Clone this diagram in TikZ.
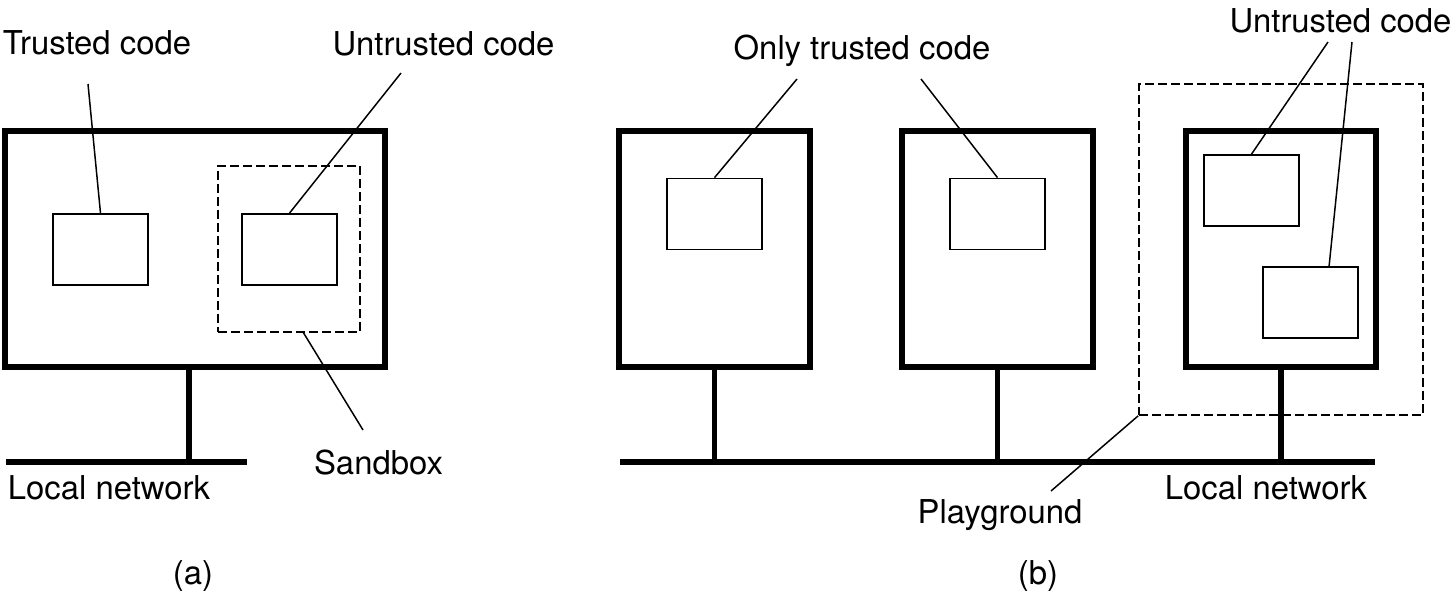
\documentclass[tikz,border=0pt]{standalone}
\usepackage{fontspec}
\setmainfont{TeX Gyre Heros}
\usetikzlibrary{shapes}
\pgfdeclarelayer{edgelayer}
\pgfdeclarelayer{nodelayer}
\pgfsetlayers{edgelayer,nodelayer,main}
\tikzstyle{none}=[inner sep=0pt]
\tikzstyle{hostbox}=[draw, rectangle, line width=2.9pt, minimum width=3.82cm, minimum height=4.72cm, inner sep=0pt]
\tikzstyle{codebox}=[draw, rectangle, line width=1pt, minimum width=1.9cm, minimum height=1.42cm, inner sep=0pt]
\tikzstyle{zonebox}=[draw, rectangle, line width=1pt, dash pattern=on 5pt off 2.4pt, inner sep=0pt]
\tikzstyle{txt}=[inner sep=0pt, anchor=base, font=\fontsize{18.7}{22}\selectfont]
\tikzstyle{netline}=[line width=3.2pt]
\tikzstyle{leader}=[line width=0.85pt]

\begin{document}
\begin{tikzpicture}[x=0.02cm, y=-0.02cm]
	\useasboundingbox (0,0) rectangle (1454,593);
	\begin{pgfonlayer}{nodelayer}
		% (a)
		\node [style=hostbox, minimum width=7.6cm] (0) at (195, 249) {};
		\node [style=codebox] (1) at (100.5, 249.5) {};
		\node [style=codebox] (2) at (289.5, 249.5) {};
		\node [style=zonebox, minimum width=2.84cm, minimum height=3.32cm] (3) at (289, 249) {};
		\node [style=none] (4) at (189, 462) {};
		\node [style=none] (5) at (6, 462) {};
		\node [style=none] (6) at (247, 462) {};
		\node [style=txt] (7) at (97, 54) {Trusted code};
		\node [style=txt] (8) at (443.5, 55) {Untrusted code};
		\node [style=txt] (9) at (378.5, 474) {Sandbox};
		\node [style=txt] (10) at (109, 499) {Local network};
		\node [style=txt] (11) at (193, 584) {(a)};
		\node [style=none] (12) at (88, 84) {};
		\node [style=none] (13) at (401, 73) {};
		\node [style=none] (14) at (303, 332) {};
		\node [style=none] (15) at (363, 430) {};
		% (b)
		\node [style=hostbox] (16) at (714.5, 249) {};
		\node [style=hostbox] (17) at (997.5, 249) {};
		\node [style=hostbox, minimum width=3.8cm] (18) at (1281, 249) {};
		\node [style=codebox] (19) at (714.5, 214) {};
		\node [style=codebox] (20) at (997.5, 214) {};
		\node [style=codebox] (21) at (1251.5, 190.5) {};
		\node [style=codebox] (22) at (1310.5, 302.5) {};
		\node [style=zonebox, minimum width=5.68cm, minimum height=6.62cm] (23) at (1281, 249.5) {};
		\node [style=none] (24) at (620, 462) {};
		\node [style=none] (25) at (1375, 462) {};
		\node [style=txt] (26) at (862, 59) {Only trusted code};
		\node [style=txt] (27) at (1340.5, 32) {Untrusted code};
		\node [style=txt] (28) at (1000, 523) {Playground};
		\node [style=txt] (29) at (1266, 499) {Local network};
		\node [style=txt] (30) at (1038, 584) {(b)};
		\node [style=none] (31) at (797, 79) {};
		\node [style=none] (32) at (921, 79) {};
		\node [style=none] (33) at (1328, 42) {};
		\node [style=none] (34) at (1352, 42) {};
		\node [style=none] (35) at (1329, 267) {};
		\node [style=none] (36) at (1051, 491) {};
	\end{pgfonlayer}
	\begin{pgfonlayer}{edgelayer}
		\draw [style=netline] (5.center) to (6.center);
		\draw [style=netline] (4 |- 0.south) to (4.center);
		\draw [style=leader] (12.center) to (1.north);
		\draw [style=leader] (13.center) to (2.north);
		\draw [style=leader] (14.center) to (15.center);
		\draw [style=netline] (24.center) to (25.center);
		\draw [style=netline] (16.south) to (16 |- 24.center);
		\draw [style=netline] (17.south) to (17 |- 24.center);
		\draw [style=netline] (18.south) to (18 |- 24.center);
		\draw [style=leader] (31.center) to (19.north);
		\draw [style=leader] (32.center) to (20.north);
		\draw [style=leader] (33.center) to (21.north);
		\draw [style=leader] (34.center) to (35.center);
		\draw [style=leader] (36.center) to (23.south west);
	\end{pgfonlayer}
\end{tikzpicture}
\end{document}
